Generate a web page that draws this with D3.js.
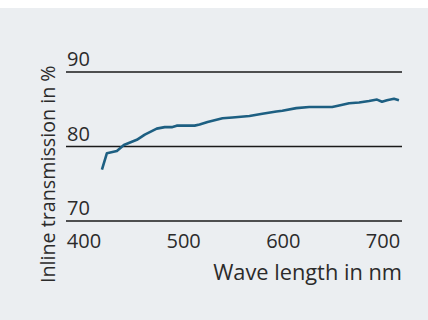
<!DOCTYPE html>
<html lang="en">
  <head>
    <meta charset="UTF-8" />
    <title>Inline transmission</title>
    <script src="https://d3js.org/d3.v7.min.js"></script>
    <style>
      body {
        margin: 0;
        background: #fff;
      }
      text {
        font-family: "Open Sans", sans-serif;
        fill: #2b2b2b;
      }
    </style>
  </head>
  <body>
    <svg width="428" height="320"></svg>
    <script>
      // wavelength (nm) and inline transmission (%)
      const wavelength = [418, 423, 433, 440, 453, 461, 473, 481, 488, 493, 511, 516, 524, 539, 549, 566, 579, 593, 599, 613, 626, 649, 656, 666, 676, 686, 694, 699, 704, 711, 716];
      const transmission = [76.9, 79.1, 79.4, 80.2, 80.9, 81.6, 82.4, 82.6, 82.6, 82.8, 82.8, 82.95, 83.3, 83.8, 83.9, 84.1, 84.4, 84.7, 84.8, 85.15, 85.3, 85.3, 85.5, 85.8, 85.9, 86.1, 86.3, 86.0, 86.2, 86.4, 86.2];
      const xTicks = [400, 500, 600, 700];
      const yTicks = [70, 80, 90];

      const svg = d3.select("svg");

      svg.append("rect")
        .attr("x", 0).attr("y", 8)
        .attr("width", 428).attr("height", 312)
        .attr("fill", "#ebeef1");

      const x = d3.scaleLinear().domain([400, 700]).range([84, 383]);
      const y = d3.scaleLinear().domain([70, 90]).range([221, 72]);
      const left = 66, right = 402;

      // horizontal gridlines with labels above
      const grid = svg.append("g");
      yTicks.forEach((t) => {
        grid.append("line")
          .attr("x1", left).attr("x2", right)
          .attr("y1", y(t)).attr("y2", y(t))
          .attr("stroke", "#1a1a1a")
          .attr("stroke-width", 1.4);
        grid.append("text")
          .attr("x", left + 1)
          .attr("y", y(t) - 6)
          .attr("font-size", 20)
          .text(t);
      });

      // x tick labels
      svg.append("g")
        .selectAll("text")
        .data(xTicks)
        .join("text")
        .attr("x", (d) => x(d))
        .attr("y", 248)
        .attr("text-anchor", "middle")
        .attr("font-size", 20)
        .text((d) => d);

      svg.append("text")
        .attr("x", right)
        .attr("y", 280)
        .attr("text-anchor", "end")
        .attr("font-size", 21.8)
        .text("Wave length in nm");

      svg.append("text")
        .attr("transform", "translate(55,283) rotate(-90)")
        .attr("font-size", 19.7)
        .text("Inline transmission in %");

      const line = d3.line()
        .x((d, i) => x(wavelength[i]))
        .y((d) => y(d));

      svg.append("path")
        .datum(transmission)
        .attr("fill", "none")
        .attr("stroke", "#1d5f82")
        .attr("stroke-width", 2.6)
        .attr("stroke-linejoin", "round")
        .attr("d", line);
    </script>
  </body>
</html>
